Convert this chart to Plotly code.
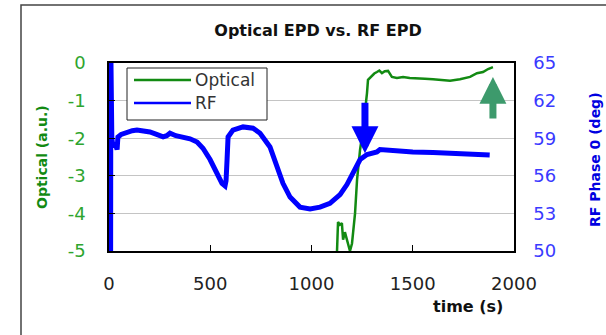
import plotly.graph_objects as go

# ---------------- data ----------------
time_opt = [1120, 1126, 1131, 1140, 1150, 1156, 1165, 1175, 1190, 1200, 1215, 1225,
            1240, 1254, 1264, 1274, 1279, 1290, 1299, 1310, 1323, 1335, 1348, 1362,
            1378, 1397, 1422, 1452, 1485, 1521, 1560, 1600, 1640, 1684, 1733, 1783,
            1817, 1847, 1872, 1896]
optical = [-5.3, -5.0, -4.23, -4.3, -4.26, -4.7, -4.5, -4.7, -5.0, -4.8, -4.0, -3.1,
           -2.3, -1.78, -1.33, -0.8, -0.45, -0.38, -0.32, -0.28, -0.24, -0.2, -0.27, -0.22,
           -0.21, -0.37, -0.4, -0.37, -0.4, -0.4, -0.42, -0.43, -0.44, -0.47, -0.43, -0.37,
           -0.27, -0.24, -0.16, -0.11]

time_rf = [8, 9, 11, 14, 20, 30, 40, 44, 60, 89, 115, 138, 170, 202, 235, 267, 285,
           301, 330, 365, 400, 435, 464, 499, 533, 558, 573, 578, 583, 588, 612, 662,
           711, 746, 795, 830, 859, 894, 943, 993, 1042, 1091, 1141, 1175, 1205, 1240,
           1274, 1323, 1338, 1400, 1450, 1500, 1600, 1700, 1800, 1880]
rf_phase = [49, 66, 58.2, 59.0, 58.3, 58.6, 58.1, 59.1, 59.3, 59.5, 59.6, 59.65, 59.6,
            59.5, 59.3, 59.1, 59.2, 59.4, 59.2, 59.1, 58.95, 58.7, 58.2, 57.3, 56.1,
            55.4, 55.2, 55.6, 57.3, 59.1, 59.65, 59.9, 59.8, 59.4, 58.3, 56.7, 55.4,
            54.3, 53.5, 53.35, 53.5, 53.8, 54.5, 55.3, 56.3, 57.3, 57.7, 57.9, 58.1,
            58.0, 57.95, 57.9, 57.85, 57.8, 57.7, 57.65]

series_names = ["Optical", "RF"]
x_ticks = [0, 500, 1000, 1500, 2000]
left_ticks = [0, -1, -2, -3, -4, -5]
left_tick_labels = ["0", "-1", "-2", "-3", "-4", "-5"]
right_ticks = [65, 62, 59, 56, 53, 50]

# arrow markers (time, value)
rf_arrow = (1264, 57.8)
opt_arrow = (1896, -0.37)

GREEN = "#128a12"
BLUE = "#0000ff"
FONT = "DejaVu Sans"

fig = go.Figure()
fig.add_trace(go.Scatter(x=time_opt, y=optical, mode="lines", name=series_names[0],
                         line=dict(color=GREEN, width=2.5), yaxis="y", showlegend=False))
fig.add_trace(go.Scatter(x=time_rf, y=rf_phase, mode="lines", name=series_names[1],
                         line=dict(color=BLUE, width=5), yaxis="y2", showlegend=False))

# plot area: x 109..514, y 63..251 px
W, H = 606, 335
L, R, T, B = 109, 92, 63, 84
pw, ph = W - L - R, H - T - B


def px(xp):
    return (xp - L) / pw


def py(yp):
    return (H - B - yp) / ph


shapes = [
    # outer chart frame
    dict(type="rect", xref="paper", yref="paper", x0=px(21), x1=px(640), y0=py(360), y1=py(5),
         line=dict(color="#444444", width=1.5), fillcolor="rgba(0,0,0,0)", layer="below"),
    # legend box
    dict(type="rect", xref="paper", yref="paper", x0=px(127), x1=px(267), y0=py(120), y1=py(68),
         line=dict(color="#222222", width=1), fillcolor="white", layer="above"),
    dict(type="line", xref="paper", yref="paper", x0=px(134), x1=px(191), y0=py(80), y1=py(80),
         line=dict(color=GREEN, width=2.5), layer="above"),
    dict(type="line", xref="paper", yref="paper", x0=px(134), x1=px(191), y0=py(103), y1=py(103),
         line=dict(color=BLUE, width=2.5), layer="above"),
]

annotations = [
    dict(text=series_names[0], xref="paper", yref="paper", x=px(193), y=py(80), xanchor="left",
         yanchor="middle", showarrow=False, font=dict(family=FONT, size=17, color="#333333")),
    dict(text=series_names[1], xref="paper", yref="paper", x=px(193), y=py(103), xanchor="left",
         yanchor="middle", showarrow=False, font=dict(family=FONT, size=17, color="#333333")),
    dict(text="<b>Optical (a.u.)</b>", xref="paper", yref="paper", x=px(42), y=py(157),
         textangle=-90, showarrow=False, xanchor="center", yanchor="middle",
         font=dict(family=FONT, size=14, color=GREEN)),
    dict(text="<b>RF Phase 0 (deg)</b>", xref="paper", yref="paper", x=px(595), y=py(160),
         textangle=-90, showarrow=False, xanchor="center", yanchor="middle",
         font=dict(family=FONT, size=14, color="#0000e0")),
    dict(text="<b>time (s)</b>", xref="paper", yref="paper", x=px(468), y=py(306),
         showarrow=False, xanchor="center", yanchor="middle",
         font=dict(family=FONT, size=16, color="#111111")),
    # arrows
    dict(x=rf_arrow[0], y=rf_arrow[1], xref="x", yref="y2", ax=0, ay=-52, text="",
         showarrow=True, arrowhead=2, arrowsize=0.77, arrowwidth=7, arrowcolor=BLUE,
         standoff=0),
    dict(x=opt_arrow[0], y=opt_arrow[1], xref="x", yref="y", ax=0, ay=43, text="",
         showarrow=True, arrowhead=2, arrowsize=0.77, arrowwidth=7, arrowcolor="#3d9a6c",
         standoff=0),
]

fig.update_layout(
    width=W, height=H,
    margin=dict(l=L, r=R, t=T, b=B),
    paper_bgcolor="white", plot_bgcolor="white",
    title=dict(text="<b>Optical EPD vs. RF EPD</b>", x=px(318), xref="paper", xanchor="center",
               y=1 - 30 / H, yref="container", yanchor="middle",
               font=dict(family=FONT, size=16, color="#111111")),
    xaxis=dict(range=[0, 2000], tickvals=x_ticks, ticks="inside", ticklen=6, tickcolor="black",
               showline=True, linecolor="black", linewidth=1.5, mirror=True, showgrid=False,
               zeroline=False, ticklabelstandoff=16,
               tickfont=dict(family=FONT, size=18, color="#222222")),
    yaxis=dict(range=[-5, 0], tickvals=left_ticks, ticktext=left_tick_labels,
               ticks="inside", ticklen=6, tickcolor="black",
               showline=True, linecolor="black", linewidth=1.5, mirror=True,
               showgrid=True, gridcolor="#c4c4c4", gridwidth=1, zeroline=False,
               ticklabelstandoff=18,
               tickfont=dict(family=FONT, size=18, color="#2ea52e")),
    yaxis2=dict(range=[50, 65], tickvals=right_ticks, overlaying="y", side="right",
                showline=True, linecolor="black", linewidth=1.5, showgrid=False, zeroline=False,
                ticks="", ticklabelstandoff=14,
                tickfont=dict(family=FONT, size=18, color="#3a3aff")),
    shapes=shapes,
    annotations=annotations,
    showlegend=False,
)

fig.write_html("out.html")
